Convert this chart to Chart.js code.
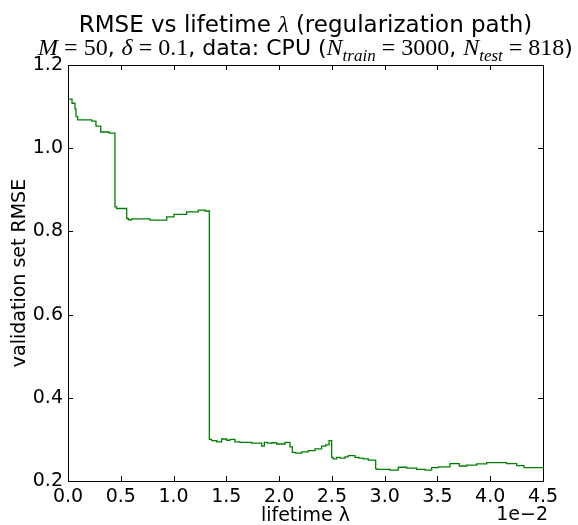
<!DOCTYPE html>
<html>
<head>
<meta charset="utf-8">
<script src="https://cdn.jsdelivr.net/npm/chart.js@4.4.1/dist/chart.umd.min.js"></script>
<style>
  html, body { margin: 0; padding: 0; background: #fff; }
  #wrap { width: 578px; height: 525px; }
</style>
</head>
<body>
<div id="wrap"><canvas id="myChart" width="578" height="525"></canvas></div>
<script>
// lifetime lambda (units of 1e-2) where each step of the path starts
const lifetime = [
  0.000, 0.038, 0.066, 0.076, 0.092, 0.225, 0.265, 0.310, 0.391, 0.445,
  0.461, 0.556, 0.572, 0.603, 0.777, 0.935, 1.004, 1.124, 1.234, 1.298,
  1.339, 1.361, 1.409, 1.456, 1.503, 1.535, 1.582, 1.629, 1.740, 1.835,
  1.860, 1.892, 1.930, 1.977, 2.056, 2.103, 2.125, 2.157, 2.214, 2.276,
  2.340, 2.403, 2.441, 2.473, 2.498, 2.510, 2.545, 2.577, 2.624, 2.655,
  2.719, 2.757, 2.797, 2.845, 2.915, 2.930, 3.050, 3.129, 3.209, 3.303,
  3.382, 3.445, 3.508, 3.619, 3.707, 3.777, 3.872, 3.966, 4.061, 4.156,
  4.251, 4.320, 4.377, 4.500
];
// validation set RMSE for each step
const rmse = [
  1.136, 1.118, 1.108, 1.094, 1.076, 1.068, 1.065, 1.053, 1.039, 1.036,
  0.859, 0.855, 0.831, 0.828, 0.830, 0.827, 0.835, 0.841, 0.847, 0.851,
  0.849, 0.300, 0.297, 0.294, 0.301, 0.298, 0.300, 0.294, 0.293, 0.291,
  0.284, 0.293, 0.291, 0.292, 0.289, 0.293, 0.282, 0.269, 0.267, 0.270,
  0.273, 0.277, 0.284, 0.287, 0.297, 0.257, 0.253, 0.257, 0.255, 0.258,
  0.261, 0.257, 0.255, 0.253, 0.250, 0.229, 0.228, 0.226, 0.233, 0.231,
  0.228, 0.226, 0.232, 0.234, 0.242, 0.236, 0.238, 0.241, 0.244, 0.244,
  0.242, 0.237, 0.232, 0.232
];

const xTicks = [0.0, 0.5, 1.0, 1.5, 2.0, 2.5, 3.0, 3.5, 4.0, 4.5];
const yTicks = [0.2, 0.4, 0.6, 0.8, 1.0, 1.2];

const sans = "'DejaVu Sans', sans-serif";
const serif = "'Liberation Serif', 'DejaVu Serif', serif";

// title runs: [text, font, baseline shift]
const titleRuns = [
  ["RMSE vs lifetime ", "23px " + sans, 0],
  ["λ", "italic 24px " + serif, 0],
  [" (regularization path)", "23px " + sans, 0],
];
const subtitleRuns = [
  ["M", "italic 24px " + serif, 0],
  [" = 50", "24px " + serif, 0],
  [", ", "22px " + sans, 0],
  ["δ", "italic 24px " + serif, 0],
  [" = 0.1", "24px " + serif, 0],
  [", data: CPU (", "22px " + sans, 0],
  ["N", "italic 24px " + serif, 0],
  ["train", "italic 17px " + serif, 6],
  [" = 3000", "24px " + serif, 0],
  [", ", "22px " + sans, 0],
  ["N", "italic 24px " + serif, 0],
  ["test", "italic 17px " + serif, 6],
  [" = 818", "24px " + serif, 0],
  [")", "22px " + sans, 0],
];

function drawRuns(ctx, runs, cx, baseline) {
  let total = 0;
  runs.forEach(r => { ctx.font = r[1]; total += ctx.measureText(r[0]).width; });
  let x = cx - total / 2;
  ctx.textAlign = "left";
  ctx.textBaseline = "alphabetic";
  runs.forEach(r => {
    ctx.font = r[1];
    ctx.fillText(r[0], x, baseline + r[2]);
    x += ctx.measureText(r[0]).width;
  });
}

const framePlugin = {
  id: "frame",
  afterDraw(chart) {
    const ctx = chart.ctx;
    const a = chart.chartArea;
    const xs = chart.scales.x, ys = chart.scales.y;
    ctx.save();
    ctx.strokeStyle = "#000";
    ctx.lineWidth = 1;
    ctx.strokeRect(a.left + 0.5, a.top + 0.5, a.right - a.left, a.bottom - a.top);
    ctx.beginPath();
    xs.ticks.forEach(t => {
      const px = Math.round(xs.getPixelForValue(t.value)) + 0.5;
      ctx.moveTo(px, a.bottom); ctx.lineTo(px, a.bottom - 5);
      ctx.moveTo(px, a.top); ctx.lineTo(px, a.top + 5);
    });
    ys.ticks.forEach(t => {
      const py = Math.round(ys.getPixelForValue(t.value)) + 0.5;
      ctx.moveTo(a.left, py); ctx.lineTo(a.left + 5, py);
      ctx.moveTo(a.right, py); ctx.lineTo(a.right - 5, py);
    });
    ctx.stroke();

    ctx.fillStyle = "#000";
    const cx = (a.left + a.right) / 2;
    drawRuns(ctx, titleRuns, cx, 32);
    drawRuns(ctx, subtitleRuns, cx, 55);

    ctx.font = "19px " + sans;
    ctx.textAlign = "right";
    ctx.textBaseline = "middle";
    ctx.fillText("1e\u22122", a.right + 5, 515);
    ctx.restore();
  }
};

const data = {
  datasets: [
    {
      label: "validation set RMSE",
      data: lifetime.map((v, i) => ({ x: v, y: rmse[i] })),
      borderColor: "#008000",
      backgroundColor: "#008000",
      borderWidth: 1.3,
      pointRadius: 0,
      stepped: "after",
      fill: false,
    },
  ],
};

const config = {
  type: "line",
  data: data,
  options: {
    responsive: false,
    animation: false,
    layout: { padding: { top: 65, right: 35, left: 0, bottom: 0 } },
    plugins: { legend: { display: false }, tooltip: { enabled: false } },
    scales: {
      x: {
        type: "linear",
        min: 0,
        max: 4.5,
        afterBuildTicks: s => { s.ticks = xTicks.map(v => ({ value: v })); },
        afterFit: s => { s.height = 44; },
        grid: { display: false, drawTicks: false },
        border: { display: false },
        ticks: {
          padding: 5,
          color: "#000",
          font: { family: sans, size: 19 },
          callback: v => v.toFixed(1),
          maxRotation: 0,
        },
        title: {
          display: true,
          text: "lifetime λ",
          color: "#000",
          font: { family: sans, size: 19 },
          padding: { top: 0, bottom: -2 },
        },
      },
      y: {
        min: 0.2,
        max: 1.2,
        afterBuildTicks: s => { s.ticks = yTicks.map(v => ({ value: v })); },
        afterFit: s => { s.width = 68; },
        grid: { display: false, drawTicks: false },
        border: { display: false },
        ticks: {
          padding: 5,
          color: "#000",
          font: { family: sans, size: 19 },
          callback: v => v.toFixed(1),
        },
        title: {
          display: true,
          text: "validation set RMSE",
          color: "#000",
          font: { family: sans, size: 19 },
          padding: { top: 9, bottom: 0 },
        },
      },
    },
  },
  plugins: [framePlugin],
};

const myChart = new Chart(document.getElementById("myChart"), config);
</script>
</body>
</html>
